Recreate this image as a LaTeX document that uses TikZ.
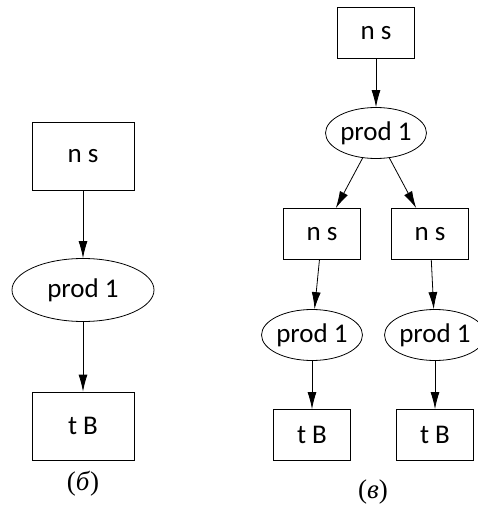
\documentclass[tikz,border=0pt]{standalone}
\usepackage{fontspec}
\setmainfont{Carlito}
\newfontfamily\cyrserif{Liberation Serif}
\usetikzlibrary{shapes, arrows.meta, positioning}

\begin{document}
\begin{tikzpicture}[x=1pt, y=-1pt,
            box/.style={draw, rectangle, line width=0.8pt, minimum width=77pt, minimum height=51pt, font=\fontsize{27}{29}\selectfont},
            bigbox/.style={box, minimum width=102pt, minimum height=68pt},
            prod/.style={draw, ellipse, line width=0.8pt, inner sep=0pt, minimum width=98pt, minimum height=51pt, font=\fontsize{27}{29}\selectfont},
            bigprod/.style={prod, minimum width=142pt, minimum height=63pt},
            edge/.style={-{Latex[length=17pt, width=9pt]}, line width=0.8pt},
            caption/.style={font=\cyrserif\fontsize{27}{29}\selectfont}
        ]
            \useasboundingbox (0,0) rectangle (477,508);

            % left tree
            \node[bigbox] (ns) at (83,156) {n s};
            \node[bigprod] (pr) at (83,290) {prod 1};
            \node[bigbox] (tb) at (83,426) {t B};
            \node[caption] (capb) at (83,484) {(\textit{б})};

            \draw[edge] (ns) -- (pr);
            \draw[edge] (pr) -- (tb);

            % right tree
            \node[box] (ns1) at (376,33) {n s};
            \node[prod] (pr1) at (376,133) {prod 1};
            \node[box] (ns2) at (322,234) {n s};
            \node[box] (ns3) at (430,234) {n s};
            \node[prod] (pr2) at (312,335) {prod 1};
            \node[prod] (pr3) at (435,335) {prod 1};
            \node[box] (tb2) at (312,435) {t B};
            \node[box] (tb3) at (435,435) {t B};
            \node[caption] (capv) at (373,492) {(\textit{в})};

            \draw[edge] (ns1) -- (pr1);
            \draw[edge] (pr1) -- (ns2);
            \draw[edge] (pr1) -- (ns3);
            \draw[edge] (ns2) -- (pr2);
            \draw[edge] (ns3) -- (pr3);
            \draw[edge] (pr2) -- (tb2);
            \draw[edge] (pr3) -- (tb3);
        \end{tikzpicture}
\end{document}
